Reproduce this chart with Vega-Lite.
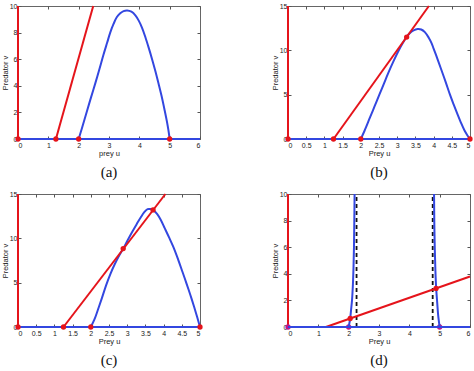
{
  "$schema": "https://vega.github.io/schema/vega-lite/v6.json",
  "padding": {"left": 0, "top": 1, "right": 2, "bottom": 2},
  "background": "white",
  "columns": 2,
  "spacing": {"row": 55, "column": 88},
  "bounds": "flush",
  "config": {
    "view": {"stroke": "#666", "strokeWidth": 1},
    "axis": {"grid": false, "domain": false, "tickColor": "#555", "tickSize": -3, "labelFont": "Liberation Sans", "labelFontSize": 7, "labelColor": "#222", "labelPadding": 4, "titleFont": "Liberation Sans", "titleFontSize": 7.5, "titleFontWeight": "normal", "titleColor": "#222", "titlePadding": 0},
    "axisX": {"labelPadding": 5, "titlePadding": 1},
    "title": {"font": "Liberation Serif", "fontSize": 15, "fontWeight": "normal", "color": "#111", "orient": "bottom", "anchor": "middle", "offset": 8}
  },
  "concat": [
    {
      "width": 182, "height": 133,
      "title": "(a)",
      "data": {"values": [
        {"n": "prey", "seg": "axis", "i": 0, "u": 0, "v": 0},
        {"n": "prey", "seg": "axis", "i": 1, "u": 6, "v": 0},
        {"n": "prey", "seg": "hump", "i": 0, "u": 2, "v": 0},
        {"n": "prey", "seg": "hump", "i": 1, "u": 2.1, "v": 0.75},
        {"n": "prey", "seg": "hump", "i": 2, "u": 2.27, "v": 2.07},
        {"n": "prey", "seg": "hump", "i": 3, "u": 2.41, "v": 3.15},
        {"n": "prey", "seg": "hump", "i": 4, "u": 2.55, "v": 4.2},
        {"n": "prey", "seg": "hump", "i": 5, "u": 2.69, "v": 5.3},
        {"n": "prey", "seg": "hump", "i": 6, "u": 2.82, "v": 6.35},
        {"n": "prey", "seg": "hump", "i": 7, "u": 2.94, "v": 7.25},
        {"n": "prey", "seg": "hump", "i": 8, "u": 3.04, "v": 8.0},
        {"n": "prey", "seg": "hump", "i": 9, "u": 3.15, "v": 8.65},
        {"n": "prey", "seg": "hump", "i": 10, "u": 3.26, "v": 9.17},
        {"n": "prey", "seg": "hump", "i": 11, "u": 3.37, "v": 9.45},
        {"n": "prey", "seg": "hump", "i": 12, "u": 3.48, "v": 9.62},
        {"n": "prey", "seg": "hump", "i": 13, "u": 3.6, "v": 9.67},
        {"n": "prey", "seg": "hump", "i": 14, "u": 3.74, "v": 9.57},
        {"n": "prey", "seg": "hump", "i": 15, "u": 3.87, "v": 9.3},
        {"n": "prey", "seg": "hump", "i": 16, "u": 3.98, "v": 8.9},
        {"n": "prey", "seg": "hump", "i": 17, "u": 4.09, "v": 8.36},
        {"n": "prey", "seg": "hump", "i": 18, "u": 4.2, "v": 7.65},
        {"n": "prey", "seg": "hump", "i": 19, "u": 4.31, "v": 6.85},
        {"n": "prey", "seg": "hump", "i": 20, "u": 4.42, "v": 6.0},
        {"n": "prey", "seg": "hump", "i": 21, "u": 4.53, "v": 5.09},
        {"n": "prey", "seg": "hump", "i": 22, "u": 4.64, "v": 4.1},
        {"n": "prey", "seg": "hump", "i": 23, "u": 4.75, "v": 3.07},
        {"n": "prey", "seg": "hump", "i": 24, "u": 4.84, "v": 2.1},
        {"n": "prey", "seg": "hump", "i": 25, "u": 4.91, "v": 1.31},
        {"n": "prey", "seg": "hump", "i": 26, "u": 4.96, "v": 0.65},
        {"n": "prey", "seg": "hump", "i": 27, "u": 5, "v": 0},
        {"n": "predator", "seg": "u0", "i": 0, "u": 0, "v": 0},
        {"n": "predator", "seg": "u0", "i": 1, "u": 0, "v": 10},
        {"n": "predator", "seg": "slant", "i": 0, "u": 1.25, "v": 0},
        {"n": "predator", "seg": "slant", "i": 1, "u": 2.48, "v": 10},
        {"n": "equilibrium", "seg": "eq", "i": 0, "u": 0, "v": 0},
        {"n": "equilibrium", "seg": "eq", "i": 1, "u": 1.25, "v": 0},
        {"n": "equilibrium", "seg": "eq", "i": 2, "u": 2, "v": 0},
        {"n": "equilibrium", "seg": "eq", "i": 3, "u": 5, "v": 0}
      ]},
      "resolve": {"axis": {"x": "independent", "y": "independent"}},
      "layer": [
        {
          "transform": [{"filter": "datum.n == 'prey'"}],
          "mark": {"type": "line", "strokeWidth": 2, "interpolate": "catmull-rom"},
          "encoding": {
            "x": {"field": "u", "type": "quantitative", "scale": {"domain": [0, 6], "nice": false, "zero": false}, "axis": {"values": [0, 1, 2, 3, 4, 5, 6], "title": "prey u", "format": "~r", "orient": "bottom"}},
            "y": {"field": "v", "type": "quantitative", "scale": {"domain": [0, 10], "nice": false}, "axis": {"values": [0, 2, 4, 6, 8, 10], "title": "Predator v", "format": "~r", "orient": "left"}},
            "detail": {"field": "seg"},
            "order": {"field": "i"},
            "color": {"field": "n", "type": "nominal", "scale": {"domain": ["prey", "predator"], "range": ["#3347e0", "#e5141b"]}, "legend": null}
          }
        },
        {
          "transform": [{"filter": "datum.n == 'predator'"}],
          "mark": {"type": "line", "strokeWidth": 2},
          "encoding": {
            "x": {"field": "u", "type": "quantitative", "axis": {"values": [0, 1, 2, 3, 4, 5, 6], "orient": "top", "labels": false, "title": null}},
            "y": {"field": "v", "type": "quantitative", "axis": {"values": [0, 2, 4, 6, 8, 10], "orient": "right", "labels": false, "title": null}},
            "detail": {"field": "seg"},
            "order": {"field": "i"},
            "color": {"field": "n", "type": "nominal", "legend": null}
          }
        },
        {
          "transform": [{"filter": "datum.n == 'equilibrium'"}],
          "mark": {"type": "circle", "size": 28, "opacity": 1, "color": "#e5141b"},
          "encoding": {
            "x": {"field": "u", "type": "quantitative", "axis": null},
            "y": {"field": "v", "type": "quantitative", "axis": null}
          }
        }
      ]
    },
    {
      "width": 182, "height": 133,
      "title": "(b)",
      "data": {"values": [
        {"n": "prey", "seg": "axis", "i": 0, "u": 0, "v": 0},
        {"n": "prey", "seg": "axis", "i": 1, "u": 5, "v": 0},
        {"n": "prey", "seg": "hump", "i": 0, "u": 2, "v": 0},
        {"n": "prey", "seg": "hump", "i": 1, "u": 2.1, "v": 0.9},
        {"n": "prey", "seg": "hump", "i": 2, "u": 2.25, "v": 2.4},
        {"n": "prey", "seg": "hump", "i": 3, "u": 2.38, "v": 3.7},
        {"n": "prey", "seg": "hump", "i": 4, "u": 2.51, "v": 5.0},
        {"n": "prey", "seg": "hump", "i": 5, "u": 2.63, "v": 6.2},
        {"n": "prey", "seg": "hump", "i": 6, "u": 2.75, "v": 7.4},
        {"n": "prey", "seg": "hump", "i": 7, "u": 2.89, "v": 8.7},
        {"n": "prey", "seg": "hump", "i": 8, "u": 3.03, "v": 9.9},
        {"n": "prey", "seg": "hump", "i": 9, "u": 3.15, "v": 10.8},
        {"n": "prey", "seg": "hump", "i": 10, "u": 3.26, "v": 11.5},
        {"n": "prey", "seg": "hump", "i": 11, "u": 3.35, "v": 11.95},
        {"n": "prey", "seg": "hump", "i": 12, "u": 3.45, "v": 12.25},
        {"n": "prey", "seg": "hump", "i": 13, "u": 3.56, "v": 12.4},
        {"n": "prey", "seg": "hump", "i": 14, "u": 3.66, "v": 12.35},
        {"n": "prey", "seg": "hump", "i": 15, "u": 3.76, "v": 12.05},
        {"n": "prey", "seg": "hump", "i": 16, "u": 3.87, "v": 11.4},
        {"n": "prey", "seg": "hump", "i": 17, "u": 3.94, "v": 10.85},
        {"n": "prey", "seg": "hump", "i": 18, "u": 4.0, "v": 10.2},
        {"n": "prey", "seg": "hump", "i": 19, "u": 4.1, "v": 9.1},
        {"n": "prey", "seg": "hump", "i": 20, "u": 4.2, "v": 7.95},
        {"n": "prey", "seg": "hump", "i": 21, "u": 4.33, "v": 6.45},
        {"n": "prey", "seg": "hump", "i": 22, "u": 4.45, "v": 5.0},
        {"n": "prey", "seg": "hump", "i": 23, "u": 4.55, "v": 3.9},
        {"n": "prey", "seg": "hump", "i": 24, "u": 4.65, "v": 2.85},
        {"n": "prey", "seg": "hump", "i": 25, "u": 4.75, "v": 1.85},
        {"n": "prey", "seg": "hump", "i": 26, "u": 4.85, "v": 0.95},
        {"n": "prey", "seg": "hump", "i": 27, "u": 4.93, "v": 0.4},
        {"n": "prey", "seg": "hump", "i": 28, "u": 5, "v": 0},
        {"n": "predator", "seg": "u0", "i": 0, "u": 0, "v": 0},
        {"n": "predator", "seg": "u0", "i": 1, "u": 0, "v": 15},
        {"n": "predator", "seg": "slant", "i": 0, "u": 1.25, "v": 0},
        {"n": "predator", "seg": "slant", "i": 1, "u": 3.87, "v": 15},
        {"n": "equilibrium", "seg": "eq", "i": 0, "u": 0, "v": 0},
        {"n": "equilibrium", "seg": "eq", "i": 1, "u": 1.25, "v": 0},
        {"n": "equilibrium", "seg": "eq", "i": 2, "u": 2, "v": 0},
        {"n": "equilibrium", "seg": "eq", "i": 3, "u": 5, "v": 0},
        {"n": "equilibrium", "seg": "eq", "i": 4, "u": 3.26, "v": 11.5}
      ]},
      "resolve": {"axis": {"x": "independent", "y": "independent"}},
      "layer": [
        {
          "transform": [{"filter": "datum.n == 'prey'"}],
          "mark": {"type": "line", "strokeWidth": 2, "interpolate": "catmull-rom"},
          "encoding": {
            "x": {"field": "u", "type": "quantitative", "scale": {"domain": [0, 5], "nice": false, "zero": false}, "axis": {"values": [0, 0.5, 1, 1.5, 2, 2.5, 3, 3.5, 4, 4.5, 5], "title": "Prey u", "format": "~r", "orient": "bottom"}},
            "y": {"field": "v", "type": "quantitative", "scale": {"domain": [0, 15], "nice": false}, "axis": {"values": [0, 5, 10, 15], "title": "Predator v", "format": "~r", "orient": "left"}},
            "detail": {"field": "seg"},
            "order": {"field": "i"},
            "color": {"field": "n", "type": "nominal", "scale": {"domain": ["prey", "predator"], "range": ["#3347e0", "#e5141b"]}, "legend": null}
          }
        },
        {
          "transform": [{"filter": "datum.n == 'predator'"}],
          "mark": {"type": "line", "strokeWidth": 2},
          "encoding": {
            "x": {"field": "u", "type": "quantitative", "axis": {"values": [0, 0.5, 1, 1.5, 2, 2.5, 3, 3.5, 4, 4.5, 5], "orient": "top", "labels": false, "title": null}},
            "y": {"field": "v", "type": "quantitative", "axis": {"values": [0, 5, 10, 15], "orient": "right", "labels": false, "title": null}},
            "detail": {"field": "seg"},
            "order": {"field": "i"},
            "color": {"field": "n", "type": "nominal", "legend": null}
          }
        },
        {
          "transform": [{"filter": "datum.n == 'equilibrium'"}],
          "mark": {"type": "circle", "size": 28, "opacity": 1, "color": "#e5141b"},
          "encoding": {
            "x": {"field": "u", "type": "quantitative", "axis": null},
            "y": {"field": "v", "type": "quantitative", "axis": null}
          }
        }
      ]
    },
    {
      "width": 182, "height": 133,
      "title": "(c)",
      "data": {"values": [
        {"n": "prey", "seg": "axis", "i": 0, "u": 0, "v": 0},
        {"n": "prey", "seg": "axis", "i": 1, "u": 5, "v": 0},
        {"n": "prey", "seg": "hump", "i": 0, "u": 2, "v": 0},
        {"n": "prey", "seg": "hump", "i": 1, "u": 2.1, "v": 0.85},
        {"n": "prey", "seg": "hump", "i": 2, "u": 2.2, "v": 2.0},
        {"n": "prey", "seg": "hump", "i": 3, "u": 2.3, "v": 3.2},
        {"n": "prey", "seg": "hump", "i": 4, "u": 2.42, "v": 4.7},
        {"n": "prey", "seg": "hump", "i": 5, "u": 2.54, "v": 6.0},
        {"n": "prey", "seg": "hump", "i": 6, "u": 2.66, "v": 7.1},
        {"n": "prey", "seg": "hump", "i": 7, "u": 2.78, "v": 8.05},
        {"n": "prey", "seg": "hump", "i": 8, "u": 2.9, "v": 8.9},
        {"n": "prey", "seg": "hump", "i": 9, "u": 3.02, "v": 9.85},
        {"n": "prey", "seg": "hump", "i": 10, "u": 3.14, "v": 10.75},
        {"n": "prey", "seg": "hump", "i": 11, "u": 3.26, "v": 11.6},
        {"n": "prey", "seg": "hump", "i": 12, "u": 3.37, "v": 12.35},
        {"n": "prey", "seg": "hump", "i": 13, "u": 3.47, "v": 12.95},
        {"n": "prey", "seg": "hump", "i": 14, "u": 3.56, "v": 13.3},
        {"n": "prey", "seg": "hump", "i": 15, "u": 3.64, "v": 13.3},
        {"n": "prey", "seg": "hump", "i": 16, "u": 3.73, "v": 13.15},
        {"n": "prey", "seg": "hump", "i": 17, "u": 3.82, "v": 12.75},
        {"n": "prey", "seg": "hump", "i": 18, "u": 3.92, "v": 12.1},
        {"n": "prey", "seg": "hump", "i": 19, "u": 4.03, "v": 11.15},
        {"n": "prey", "seg": "hump", "i": 20, "u": 4.15, "v": 10.1},
        {"n": "prey", "seg": "hump", "i": 21, "u": 4.27, "v": 9.0},
        {"n": "prey", "seg": "hump", "i": 22, "u": 4.4, "v": 7.6},
        {"n": "prey", "seg": "hump", "i": 23, "u": 4.52, "v": 6.2},
        {"n": "prey", "seg": "hump", "i": 24, "u": 4.63, "v": 4.9},
        {"n": "prey", "seg": "hump", "i": 25, "u": 4.74, "v": 3.55},
        {"n": "prey", "seg": "hump", "i": 26, "u": 4.84, "v": 2.25},
        {"n": "prey", "seg": "hump", "i": 27, "u": 4.92, "v": 1.15},
        {"n": "prey", "seg": "hump", "i": 28, "u": 5, "v": 0},
        {"n": "predator", "seg": "u0", "i": 0, "u": 0, "v": 0},
        {"n": "predator", "seg": "u0", "i": 1, "u": 0, "v": 15},
        {"n": "predator", "seg": "slant", "i": 0, "u": 1.25, "v": 0},
        {"n": "predator", "seg": "slant", "i": 1, "u": 4.05, "v": 15},
        {"n": "equilibrium", "seg": "eq", "i": 0, "u": 0, "v": 0},
        {"n": "equilibrium", "seg": "eq", "i": 1, "u": 1.25, "v": 0},
        {"n": "equilibrium", "seg": "eq", "i": 2, "u": 2, "v": 0},
        {"n": "equilibrium", "seg": "eq", "i": 3, "u": 5, "v": 0},
        {"n": "equilibrium", "seg": "eq", "i": 4, "u": 2.89, "v": 8.85},
        {"n": "equilibrium", "seg": "eq", "i": 5, "u": 3.71, "v": 13.2}
      ]},
      "resolve": {"axis": {"x": "independent", "y": "independent"}},
      "layer": [
        {
          "transform": [{"filter": "datum.n == 'prey'"}],
          "mark": {"type": "line", "strokeWidth": 2, "interpolate": "catmull-rom"},
          "encoding": {
            "x": {"field": "u", "type": "quantitative", "scale": {"domain": [0, 5], "nice": false, "zero": false}, "axis": {"values": [0, 0.5, 1, 1.5, 2, 2.5, 3, 3.5, 4, 4.5, 5], "title": "Prey u", "format": "~r", "orient": "bottom"}},
            "y": {"field": "v", "type": "quantitative", "scale": {"domain": [0, 15], "nice": false}, "axis": {"values": [0, 5, 10, 15], "title": "Predator v", "format": "~r", "orient": "left"}},
            "detail": {"field": "seg"},
            "order": {"field": "i"},
            "color": {"field": "n", "type": "nominal", "scale": {"domain": ["prey", "predator"], "range": ["#3347e0", "#e5141b"]}, "legend": null}
          }
        },
        {
          "transform": [{"filter": "datum.n == 'predator'"}],
          "mark": {"type": "line", "strokeWidth": 2},
          "encoding": {
            "x": {"field": "u", "type": "quantitative", "axis": {"values": [0, 0.5, 1, 1.5, 2, 2.5, 3, 3.5, 4, 4.5, 5], "orient": "top", "labels": false, "title": null}},
            "y": {"field": "v", "type": "quantitative", "axis": {"values": [0, 5, 10, 15], "orient": "right", "labels": false, "title": null}},
            "detail": {"field": "seg"},
            "order": {"field": "i"},
            "color": {"field": "n", "type": "nominal", "legend": null}
          }
        },
        {
          "transform": [{"filter": "datum.n == 'equilibrium'"}],
          "mark": {"type": "circle", "size": 28, "opacity": 1, "color": "#e5141b"},
          "encoding": {
            "x": {"field": "u", "type": "quantitative", "axis": null},
            "y": {"field": "v", "type": "quantitative", "axis": null}
          }
        }
      ]
    },
    {
      "width": 182, "height": 133,
      "title": "(d)",
      "data": {"values": [
        {"n": "prey", "seg": "axis", "i": 0, "u": 0, "v": 0},
        {"n": "prey", "seg": "axis", "i": 1, "u": 6, "v": 0},
        {"n": "prey", "seg": "left", "i": 0, "u": 2, "v": 0},
        {"n": "prey", "seg": "left", "i": 1, "u": 2.05, "v": 0.64},
        {"n": "prey", "seg": "left", "i": 2, "u": 2.08, "v": 1.3},
        {"n": "prey", "seg": "left", "i": 3, "u": 2.11, "v": 2.0},
        {"n": "prey", "seg": "left", "i": 4, "u": 2.14, "v": 3.2},
        {"n": "prey", "seg": "left", "i": 5, "u": 2.16, "v": 4.5},
        {"n": "prey", "seg": "left", "i": 6, "u": 2.175, "v": 6.0},
        {"n": "prey", "seg": "left", "i": 7, "u": 2.185, "v": 7.8},
        {"n": "prey", "seg": "left", "i": 8, "u": 2.195, "v": 10},
        {"n": "prey", "seg": "right", "i": 0, "u": 5, "v": 0},
        {"n": "prey", "seg": "right", "i": 1, "u": 4.95, "v": 0.9},
        {"n": "prey", "seg": "right", "i": 2, "u": 4.92, "v": 1.8},
        {"n": "prey", "seg": "right", "i": 3, "u": 4.885, "v": 2.9},
        {"n": "prey", "seg": "right", "i": 4, "u": 4.86, "v": 4.2},
        {"n": "prey", "seg": "right", "i": 5, "u": 4.84, "v": 5.8},
        {"n": "prey", "seg": "right", "i": 6, "u": 4.825, "v": 7.6},
        {"n": "prey", "seg": "right", "i": 7, "u": 4.815, "v": 10},
        {"n": "predator", "seg": "u0", "i": 0, "u": 0, "v": 0},
        {"n": "predator", "seg": "u0", "i": 1, "u": 0, "v": 10},
        {"n": "predator", "seg": "slant", "i": 0, "u": 1.25, "v": 0},
        {"n": "predator", "seg": "slant", "i": 1, "u": 6, "v": 3.8},
        {"n": "asymptote", "seg": "a1", "i": 0, "u": 2.26, "v": 0},
        {"n": "asymptote", "seg": "a1", "i": 1, "u": 2.26, "v": 10},
        {"n": "asymptote", "seg": "a2", "i": 0, "u": 4.77, "v": 0},
        {"n": "asymptote", "seg": "a2", "i": 1, "u": 4.77, "v": 10},
        {"n": "equilibrium", "seg": "eq", "i": 0, "u": 0, "v": 0},
        {"n": "equilibrium", "seg": "eq", "i": 1, "u": 2, "v": 0},
        {"n": "equilibrium", "seg": "eq", "i": 2, "u": 5, "v": 0},
        {"n": "equilibrium", "seg": "eq", "i": 3, "u": 2.05, "v": 0.64},
        {"n": "equilibrium", "seg": "eq", "i": 4, "u": 4.88, "v": 2.9}
      ]},
      "resolve": {"axis": {"x": "independent", "y": "independent"}},
      "layer": [
        {
          "transform": [{"filter": "datum.n == 'asymptote'"}],
          "mark": {"type": "line", "strokeWidth": 1.8, "color": "#111", "strokeDash": [4, 3]},
          "encoding": {
            "x": {"field": "u", "type": "quantitative", "scale": {"domain": [0, 6], "nice": false, "zero": false}, "axis": {"values": [0, 1, 2, 3, 4, 5, 6], "orient": "top", "labels": false, "title": null}},
            "y": {"field": "v", "type": "quantitative", "scale": {"domain": [0, 10], "nice": false}, "axis": {"values": [0, 2, 4, 6, 8, 10], "orient": "right", "labels": false, "title": null}},
            "detail": {"field": "seg"},
            "order": {"field": "i"}
          }
        },
        {
          "transform": [{"filter": "datum.n == 'predator'"}],
          "mark": {"type": "line", "strokeWidth": 2},
          "encoding": {
            "x": {"field": "u", "type": "quantitative", "axis": null},
            "y": {"field": "v", "type": "quantitative", "axis": null},
            "detail": {"field": "seg"},
            "order": {"field": "i"},
            "color": {"field": "n", "type": "nominal", "scale": {"domain": ["prey", "predator"], "range": ["#3347e0", "#e5141b"]}, "legend": null}
          }
        },
        {
          "transform": [{"filter": "datum.n == 'equilibrium' && datum.v == 0"}],
          "mark": {"type": "circle", "size": 28, "opacity": 1, "color": "#c0188a"},
          "encoding": {
            "x": {"field": "u", "type": "quantitative", "axis": null},
            "y": {"field": "v", "type": "quantitative", "axis": null}
          }
        },
        {
          "transform": [{"filter": "datum.n == 'prey'"}],
          "mark": {"type": "line", "strokeWidth": 2, "interpolate": "catmull-rom"},
          "encoding": {
            "x": {"field": "u", "type": "quantitative", "axis": {"values": [0, 1, 2, 3, 4, 5, 6], "title": "Prey u", "format": "~r", "orient": "bottom"}},
            "y": {"field": "v", "type": "quantitative", "axis": {"values": [0, 2, 4, 6, 8, 10], "title": "Predator v", "format": "~r", "orient": "left"}},
            "detail": {"field": "seg"},
            "order": {"field": "i"},
            "color": {"field": "n", "type": "nominal", "legend": null}
          }
        },
        {
          "transform": [{"filter": "datum.n == 'equilibrium' && datum.v > 0"}],
          "mark": {"type": "circle", "size": 28, "opacity": 1, "color": "#e5141b"},
          "encoding": {
            "x": {"field": "u", "type": "quantitative", "axis": null},
            "y": {"field": "v", "type": "quantitative", "axis": null}
          }
        }
      ]
    }
  ]
}
